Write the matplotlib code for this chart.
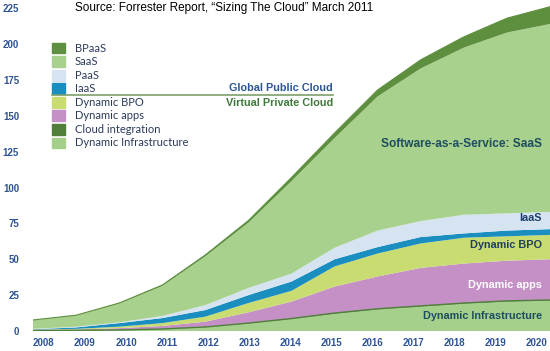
import numpy as np
import matplotlib
matplotlib.use("Agg")
import matplotlib.pyplot as plt
from matplotlib.patches import Rectangle

years = np.arange(2008, 2021)

# layer values, bottom to top
dyn_infra = [0.2, 0.4, 0.6, 1.2, 2.6, 5.2, 8.3, 12, 15, 17, 19, 20.5, 21.1]
cloud_int = [0.1, 0.1, 0.1, 0.2, 0.2, 0.3, 0.4, 0.5, 0.5, 0.5, 0.5, 0.5, 0.5]
dyn_apps = [0.5, 0.5, 1.3, 2.1, 3.7, 7.5, 11.8, 18.5, 22.5, 26.5, 27.5, 28, 28.4]
dyn_bpo = [0.2, 0.5, 1, 2, 3.5, 6.5, 7.5, 14, 16, 17, 18, 17, 17]
iaas = [0.2, 1, 2.5, 3.5, 4.6, 5.5, 6.5, 5, 4.5, 4.5, 3, 4, 4]
paas = [0.3, 0.5, 0.5, 1.5, 3.4, 5, 5.5, 8, 11.5, 11.1, 13, 12, 12]
saas = [6.2, 8, 13.2, 20.9, 34, 45.5, 64.5, 76.5, 93.5, 106.4, 116.5, 126, 131]
bpaas = [0, 0, 0.3, 0.6, 1, 1.5, 2.5, 3.5, 4.5, 6, 7.5, 10, 12]

layers = [dyn_infra, cloud_int, dyn_apps, dyn_bpo, iaas, paas, saas, bpaas]
colors = ["#a4d08c", "#4f7f3a", "#c490c6", "#c9dc72", "#1b8ec0",
          "#d6e4f2", "#a8d18e", "#5e8f3f"]

legend_names = ["BPaaS", "SaaS", "PaaS", "IaaS", "Dynamic BPO",
                "Dynamic apps", "Cloud integration", "Dynamic Infrastructure"]
legend_colors = ["#5f8f40", "#a8d18e", "#d6e4f2", "#1b8ec0", "#c9dc72",
                 "#c490c6", "#4f7f3a", "#a4d08c"]

yticks = np.arange(0, 226, 25)
navy = "#2e5496"

fig = plt.figure(figsize=(5.5, 3.51), dpi=100)
ax = fig.add_axes([33 / 550, 20 / 351, 517 / 550, 330 / 351])

ax.stackplot(years, *layers, colors=colors, linewidth=0)
top_infra = np.array(dyn_infra) + np.array(cloud_int)
ax.plot(years, top_infra, color="#4f7f3a", lw=1.0)
total = np.sum(layers, axis=0)
ax.plot(years, total, color="#5e8f3f", lw=0.8)

ax.set_xlim(2008, 2020)
ax.set_ylim(0, 230)
for s in ax.spines.values():
    s.set_visible(False)

# year labels sit slightly inside the data span
xpos = 2008.25 + (years - 2008) * 0.954
ax.set_xticks(xpos)
ax.set_xticklabels([str(y) for y in years])
ax.set_yticks(yticks)
ax.tick_params(length=0, colors=navy, labelsize=7)
ax.tick_params(axis="y", pad=10)
ax.tick_params(axis="x", pad=5)
for lab in ax.get_xticklabels() + ax.get_yticklabels():
    lab.set_fontweight("bold")
    lab.set_fontfamily("Liberation Sans")

# title
fig.text(0.408, 0.977, "Source: Forrester Report, \u201cSizing The Cloud\u201d March 2011",
         ha="center", va="center", fontsize=8.5, family="Liberation Sans")

# legend
for i, (name, c) in enumerate(zip(legend_names, legend_colors)):
    yc = (331 - (48 + i * 13.57)) / 330
    ax.add_patch(Rectangle((0.0368, yc - 0.0165), 0.025, 0.033, color=c,
                           transform=ax.transAxes, clip_on=False))
    ax.text(0.0812, yc, name, transform=ax.transAxes, ha="left", va="center",
            fontsize=8, family="Lato", color="#2b3a5a")

# public / private divider
ax.plot([0.037, 0.58], [0.715, 0.715], transform=ax.transAxes,
        color="#7f9f6a", lw=1.2)
ax.text(0.58, 0.736, "Global Public Cloud", transform=ax.transAxes,
        ha="right", va="center", fontsize=7.8, fontweight="bold",
        family="Liberation Sans", color="#2b5797")
ax.text(0.58, 0.691, "Virtual Private Cloud", transform=ax.transAxes,
        ha="right", va="center", fontsize=7.8, fontweight="bold",
        family="Liberation Sans", color="#3f7a3a")

# area labels
lab_kw = dict(transform=ax.transAxes, ha="right", va="center",
              fontweight="bold", family="Liberation Sans")
ax.text(0.985, (331 - 144) / 330, "Software-as-a-Service: SaaS",
        color="#1f4e5f", fontsize=8.6, **lab_kw)
ax.text(0.984, (331 - 218) / 330, "IaaS", color="#1f3f6e", fontsize=7.8,
        **lab_kw)
ax.text(0.984, (331 - 245) / 330, "Dynamic BPO", color="#1f3f5e",
        fontsize=7.8, **lab_kw)
ax.text(0.984, (331 - 285) / 330, "Dynamic apps", color="white",
        fontsize=7.8, **lab_kw)
ax.text(0.984, (331 - 316) / 330, "Dynamic Infrastructure",
        color="#1f4e5f", fontsize=7.8, **lab_kw)

fig.savefig("out.png", dpi=100)
